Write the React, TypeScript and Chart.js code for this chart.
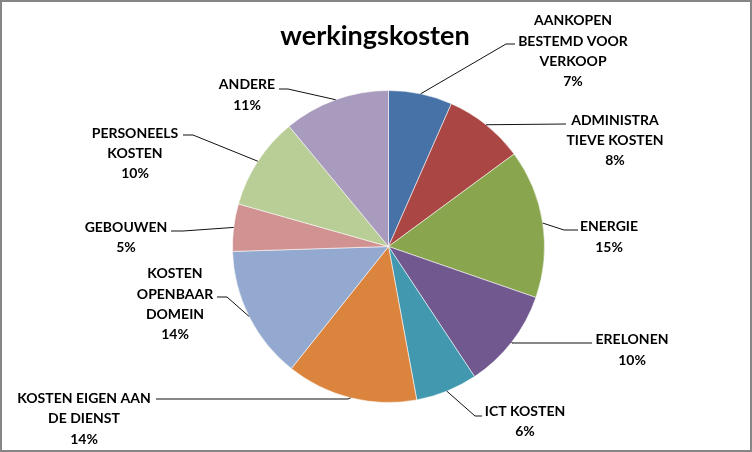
import React, { useEffect, useRef } from "react";
import { Chart, ArcElement, PieController } from "chart.js";

Chart.register(ArcElement, PieController);

const TITLE = "werkingskosten";

// category names, split into the lines shown in the chart
const categories: string[][] = [
  ["AANKOPEN", "BESTEMD VOOR", "VERKOOP"],
  ["ADMINISTRA", "TIEVE KOSTEN"],
  ["ENERGIE"],
  ["ERELONEN"],
  ["ICT KOSTEN"],
  ["KOSTEN EIGEN AAN", "DE DIENST"],
  ["KOSTEN", "OPENBAAR", "DOMEIN"],
  ["GEBOUWEN"],
  ["PERSONEELS", "KOSTEN"],
  ["ANDERE"],
];

// share of each category (percent)
const shares: number[] = [6.6, 8.3, 15.4, 10.4, 6.4, 13.6, 13.8, 4.9, 9.6, 11.0];

const sliceColors: string[] = [
  "#4672A8",
  "#AA4643",
  "#89A54E",
  "#71588F",
  "#4198AF",
  "#DB843D",
  "#93A9CF",
  "#D19392",
  "#B9CD96",
  "#A99BBD",
];

// label placement (text centre x, first-line cap centre y, leader bend points)
type LabelPos = { x: number; y: number; leader: [number, number][] };
const labelLayout: LabelPos[] = [
  { x: 573, y: 20, leader: [[506, 44], [515, 44]] },
  { x: 615, y: 119.5, leader: [[566, 124]] },
  { x: 609, y: 226, leader: [[564, 230], [578, 230]] },
  { x: 632, y: 339, leader: [[512, 343], [592, 343]] },
  { x: 525, y: 410.7, leader: [[475, 416], [482, 416]] },
  { x: 84, y: 397.7, leader: [[348, 399], [156, 399]] },
  { x: 175, y: 273, leader: [[227, 297], [217, 297]] },
  { x: 126, y: 226.3, leader: [[183, 231], [171, 231]] },
  { x: 135, y: 132.3, leader: [[193, 135], [183, 135]] },
  { x: 247, y: 84, leader: [[288, 89], [279, 89]] },
];

const LINE_GAP = 20.3;

const labelsPlugin = {
  id: "outsideLabels",
  afterDatasetsDraw(chart: any) {
    const ctx: CanvasRenderingContext2D = chart.ctx;
    const meta = chart.getDatasetMeta(0);
    const total = shares.reduce((a, b) => a + b, 0);
    ctx.save();
    // leader lines
    ctx.strokeStyle = "#111111";
    ctx.lineWidth = 1;
    meta.data.forEach((arc: any, i: number) => {
      const p = arc.getProps(["x", "y", "startAngle", "endAngle", "outerRadius"], true);
      const mid = (p.startAngle + p.endAngle) / 2;
      const sx = p.x + Math.cos(mid) * p.outerRadius;
      const sy = p.y + Math.sin(mid) * p.outerRadius;
      const lay = labelLayout[i];
      ctx.beginPath();
      ctx.moveTo(sx, sy);
      lay.leader.forEach(([lx, ly]) => ctx.lineTo(lx, ly));
      ctx.stroke();
    });
    // label text
    ctx.fillStyle = "#000000";
    ctx.font = "700 14px Lato, 'Open Sans', sans-serif";
    ctx.textAlign = "center";
    ctx.textBaseline = "alphabetic";
    meta.data.forEach((_arc: any, i: number) => {
      const lay = labelLayout[i];
      const lines = [...categories[i], Math.round((shares[i] / total) * 100) + "%"];
      lines.forEach((t, k) => {
        ctx.fillText(t, lay.x, lay.y + 5.2 + k * LINE_GAP);
      });
    });
    // title
    ctx.font = "700 27px Lato, 'Open Sans', sans-serif";
    ctx.fillText(TITLE, 375, 44.5);
    ctx.restore();
  },
};

export default function App() {
  const canvasRef = useRef<HTMLCanvasElement | null>(null);

  useEffect(() => {
    document.body.style.margin = "0";
    const canvas = canvasRef.current;
    if (!canvas) return;
    const chart = new Chart(canvas, {
      type: "pie",
      data: {
        labels: categories.map((c) => c.join(" ")),
        datasets: [
          {
            data: shares,
            backgroundColor: sliceColors,
            borderColor: "rgba(255,255,255,0.55)",
            borderWidth: 1,
          },
        ],
      },
      options: {
        responsive: false,
        animation: false,
        devicePixelRatio: 1,
        layout: { padding: { top: 90, bottom: 49, left: 232, right: 207 } },
        plugins: {
          legend: { display: false },
          title: { display: false },
          tooltip: { enabled: false },
        },
      },
      plugins: [labelsPlugin],
    });
    return () => chart.destroy();
  }, []);

  return (
    <div style={{ position: "relative", width: 752, height: 452, background: "#ffffff" }}>
      <canvas ref={canvasRef} width={752} height={452} style={{ display: "block" }} />
      <div
        style={{
          position: "absolute",
          left: 0,
          top: 0,
          width: 752,
          height: 452,
          boxSizing: "border-box",
          border: "2px solid #868686",
          pointerEvents: "none",
        }}
      />
    </div>
  );
}
